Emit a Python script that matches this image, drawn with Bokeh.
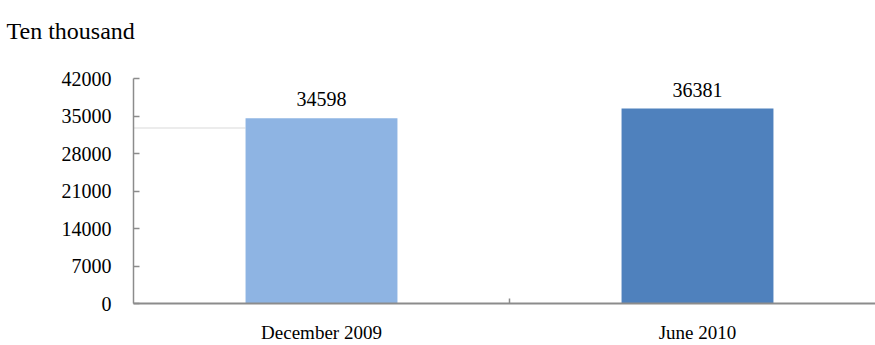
from bokeh.plotting import figure
from bokeh.models import Range1d, FixedTicker, BoxAnnotation
from bokeh.embed import file_html
from bokeh.resources import INLINE

# Internet users, in units of ten thousand
categories = ["December 2009", "June 2010"]
values = [34598, 36381]
colors = ["#8EB4E3", "#4F81BD"]
y_ticks = [0, 7000, 14000, 21000, 28000, 35000, 42000]
unit_label = "Ten thousand"

FONT = "Liberation Serif"
AXIS_GREY = "#8c8c8c"

FRAME_LEFT, FRAME_TOP, FRAME_BOTTOM = 133, 78, 304

xs = [i + 0.5 for i in range(len(categories))]

p = figure(width=875, height=345, output_backend="svg", toolbar_location=None,
           x_range=Range1d(0, 742 / 376), y_range=Range1d(0, 42000),
           min_border_left=FRAME_LEFT, min_border_right=0,
           min_border_top=FRAME_TOP, min_border_bottom=345 - FRAME_BOTTOM)
p.outline_line_color = None
p.xgrid.visible = False
p.ygrid.visible = False
p.background_fill_color = "white"
p.border_fill_color = "white"

# unit caption at the top-left corner; the blank second line lifts it
# clear of the 42000 tick
p.title.text = unit_label + "\n "
p.title.align = "left"
p.title.offset = 6 - FRAME_LEFT
p.title.standoff = 18
p.title.text_font = FONT
p.title.text_font_size = "24px"
p.title.text_font_style = "normal"
p.title.text_color = "black"

p.vbar(x=xs, top=values, width=0.404, color=colors, line_color=None)
p.text(x=xs, y=values, text=[str(v) for v in values], y_offset=-12,
       text_align="center", text_baseline="bottom",
       text_font=FONT, text_font_size="20px", text_color="black")

# category axis: labels at bar centres, single divider tick between them
xa = p.xaxis[0]
xa.ticker = FixedTicker(ticks=xs, minor_ticks=[1.0])
xa.major_label_overrides = {x: c for x, c in zip(xs, categories)}
xa.major_tick_line_color = None
xa.major_tick_in = 0
xa.major_tick_out = 0
xa.minor_tick_in = 5
xa.minor_tick_out = 0
xa.minor_tick_line_color = AXIS_GREY
xa.minor_tick_line_width = 1.5
xa.axis_line_color = AXIS_GREY
xa.axis_line_width = 2
xa.major_label_standoff = 18
xa.major_label_text_font = FONT
xa.major_label_text_font_size = "19px"
xa.major_label_text_color = "black"

ya = p.yaxis[0]
ya.ticker = FixedTicker(ticks=y_ticks)
ya.major_label_overrides = {t: str(t) for t in y_ticks}
ya.major_tick_in = 6
ya.major_tick_out = 0
ya.minor_tick_line_color = None
ya.major_tick_line_color = AXIS_GREY
ya.major_tick_line_width = 1.5
ya.axis_line_color = AXIS_GREY
ya.axis_line_width = 1.5
ya.major_label_standoff = 22
ya.major_label_text_font = FONT
ya.major_label_text_font_size = "20px"
ya.major_label_text_color = "black"

# faint rule of the watermark frame crossing the upper-left of the plot
p.add_layout(BoxAnnotation(left=0, right=245, top=127, bottom=128,
                           left_units="canvas", right_units="canvas",
                           top_units="canvas", bottom_units="canvas",
                           fill_color="#d9d9d9", fill_alpha=1,
                           line_color=None, level="underlay"))

open("out.html", "w").write(file_html(p, INLINE))
